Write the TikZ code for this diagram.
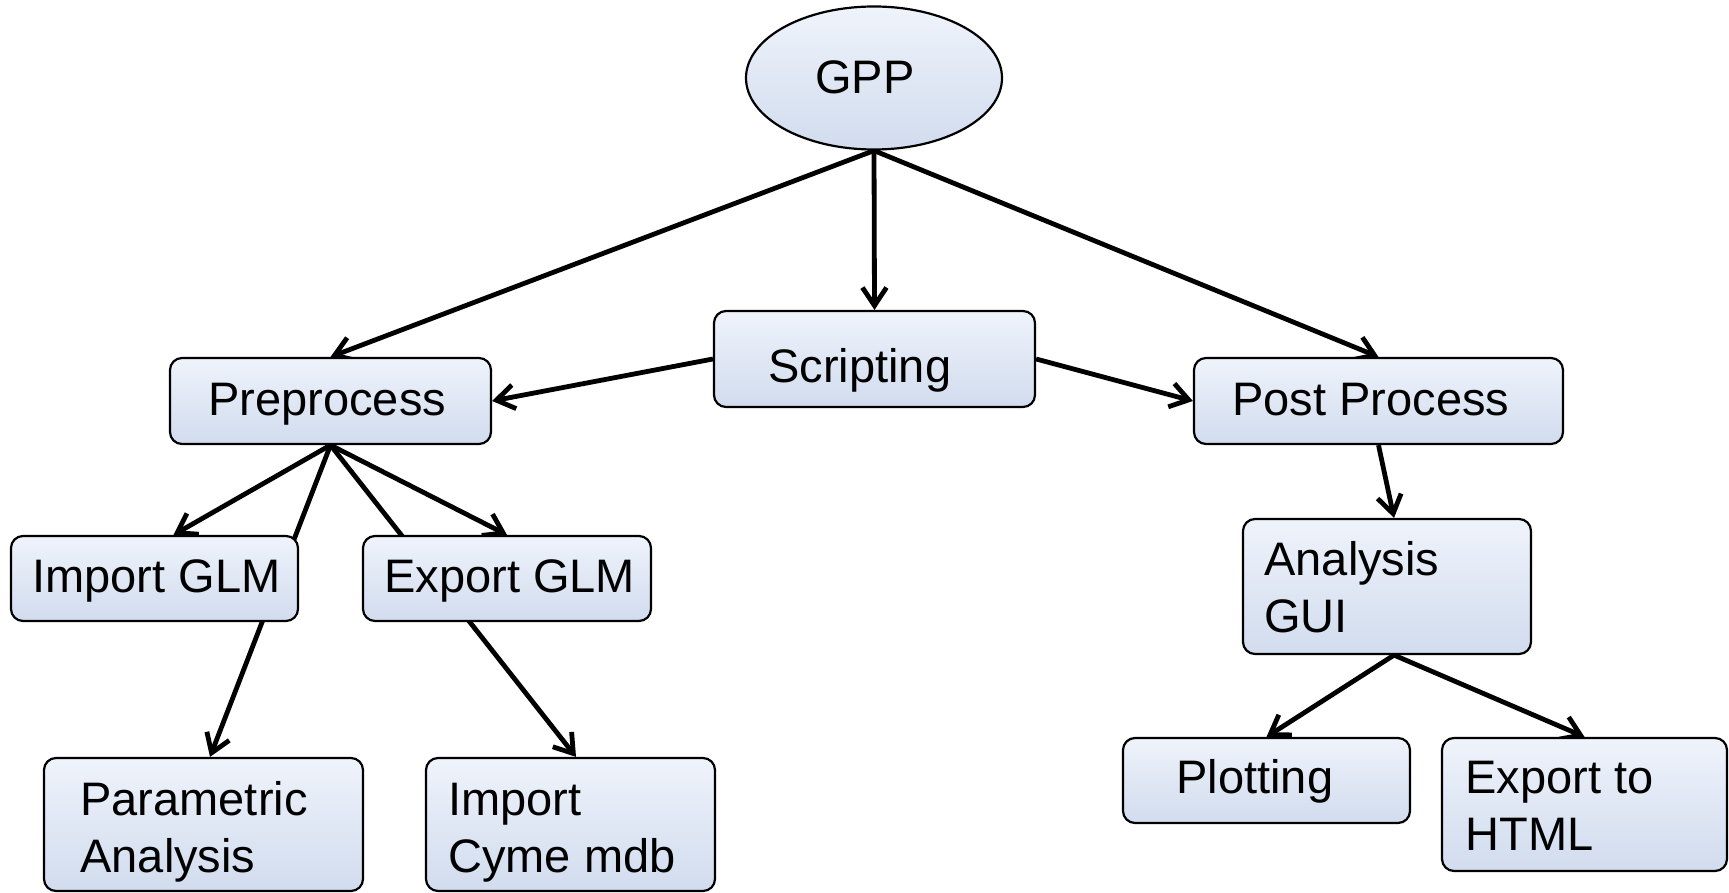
\documentclass[tikz,border=0pt]{standalone}
\usepackage{fontspec}
\setmainfont{Liberation Sans}
\usetikzlibrary{arrows.meta,shapes.geometric,calc}
\pgfdeclarelayer{bg}
\pgfsetlayers{bg,main}
\definecolor{boxtop}{HTML}{EFF3FB}
\definecolor{boxbot}{HTML}{D1DCEE}
\tikzset{
  box/.style={draw=black, line width=1.1pt, rounded corners=6pt,
    top color=boxtop, bottom color=boxbot, inner sep=0pt},
  oval/.style={ellipse, draw=black, line width=1.1pt,
    top color=boxtop, bottom color=boxbot, inner sep=0pt},
  lbl/.style={anchor=base west, inner sep=0pt,
    font=\fontsize{23.5pt}{28.5pt}\selectfont},
  link/.style={line width=2.4pt, -{Straight Barb[length=9pt,width=12pt]}},
}
\begin{document}
\begin{tikzpicture}[x=0.5pt, y=-0.5pt]
\useasboundingbox (0,0) rectangle (1729,893);

% shapes
\node[oval, minimum width=128pt, minimum height=71.5pt] (gpp) at (874,78) {};
\node[box, minimum width=160.5pt, minimum height=48pt] (scr) at (874.5,359) {};
\node[box, minimum width=160.5pt, minimum height=43pt] (pre) at (330.5,401) {};
\node[box, minimum width=184.5pt, minimum height=43pt] (post) at (1378.5,401) {};
\node[box, minimum width=143.5pt, minimum height=42.5pt] (imp) at (154.5,578.5) {};
\node[box, minimum width=144pt, minimum height=42.5pt] (exp) at (507,578.5) {};
\node[box, minimum width=159.5pt, minimum height=66.5pt] (par) at (203.5,824.5) {};
\node[box, minimum width=144.5pt, minimum height=66.5pt] (cyme) at (570.5,824.5) {};
\node[box, minimum width=144pt, minimum height=67.5pt] (gui) at (1387,586.5) {};
\node[box, minimum width=143.5pt, minimum height=42.5pt] (plot) at (1266.5,780.5) {};
\node[box, minimum width=142.5pt, minimum height=66.5pt] (html) at (1584.5,804.5) {};

% labels
\node[lbl] (t-gpp) at (815,94) {GPP};
\node[lbl] (t-scr) at (768,382) {Scripting};
\node[lbl] (t-pre) at (208,415) {Preprocess};
\node[lbl] (t-post) at (1232,415) {Post Process};
\node[lbl] (t-imp) at (32,592) {Import GLM};
\node[lbl] (t-exp) at (384,592) {Export GLM};
\node[lbl] (t-par1) at (80,815) {Parametric};
\node[lbl] (t-par2) at (80,872) {Analysis};
\node[lbl] (t-cy1) at (448,815) {Import};
\node[lbl] (t-cy2) at (448,872) {Cyme mdb};
\node[lbl] (t-gui1) at (1264,575) {Analysis};
\node[lbl] (t-gui2) at (1264,632) {GUI};
\node[lbl] (t-plot) at (1176,793) {Plotting};
\node[lbl] (t-html1) at (1465,793) {Export to};
\node[lbl] (t-html2) at (1465,850) {HTML};

% connectors, drawn beneath the boxes
\begin{pgfonlayer}{bg}
\draw[link] (gpp.south) -- (pre.north);
\draw[link] (gpp.south) -- (scr.north);
\draw[link] (gpp.south) -- (post.north);
\draw[link] (scr.west) -- (pre.east);
\draw[link] (scr.east) -- (post.west);
\draw[link] (pre.south) -- ($(imp.north)+(19,0)$);
\draw[link] (pre.south) -- (exp.north);
\draw[link] (pre.south) -- ($(par.north)+(6.5,0)$);
\draw[link] (pre.south) -- ($(cyme.north)+(5.5,0)$);
\draw[link] (post.south) -- ($(gui.north)+(7,0)$);
\draw[link] ($(gui.south)+(7,0)$) -- (plot.north);
\draw[link] ($(gui.south)+(7,0)$) -- (html.north);
\end{pgfonlayer}
\end{tikzpicture}
\end{document}
